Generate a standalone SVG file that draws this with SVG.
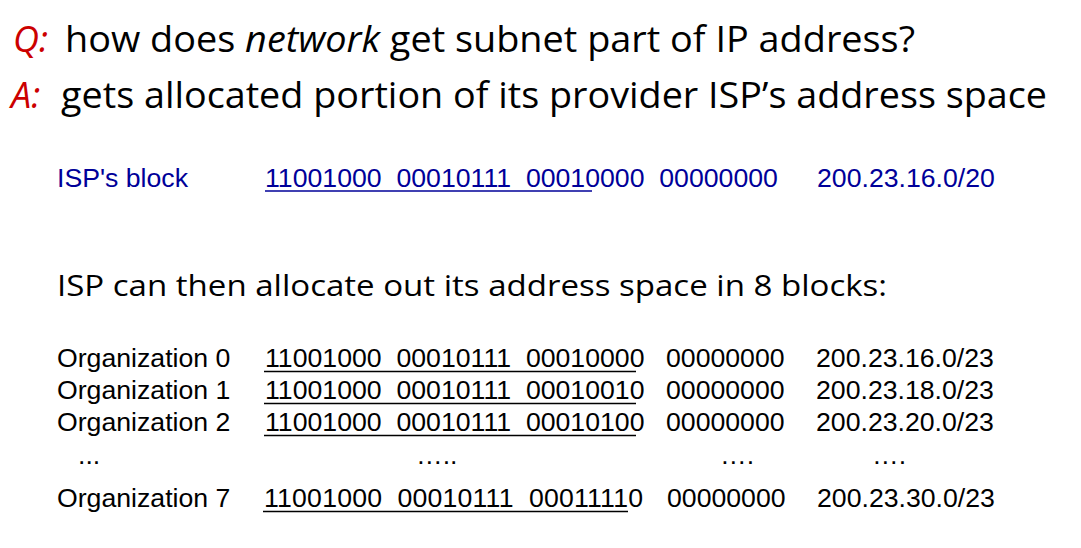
<svg xmlns="http://www.w3.org/2000/svg" width="1081" height="548" viewBox="0 0 1081 548">
<style>
.h{font-family:"Open Sans","Noto Sans","Liberation Sans",sans-serif;fill:#000}
.red{fill:#CC0000;font-style:italic}
.it{font-style:italic}
.a{font-family:"Liberation Sans",Arial,sans-serif;font-size:26.67px;white-space:pre}
.blue{fill:#000099}
.blk{fill:#000}
.ulb{stroke:#000099;stroke-width:1.6}
.ulk{stroke:#000;stroke-width:1.6}
</style>
<rect width="1081" height="548" fill="#fff"/>
<g id="question">
<text class="h red" x="13" y="51.5" font-size="36">Q:</text>
<text class="h" x="65" y="51.5" font-size="36" textLength="850" lengthAdjust="spacingAndGlyphs">how does <tspan class="it">network</tspan> get subnet part of IP address?</text>
</g>
<g id="answer">
<text class="h red" x="11" y="108" font-size="36">A:</text>
<text class="h" x="61" y="108" font-size="36" textLength="986" lengthAdjust="spacingAndGlyphs">gets allocated portion of its provider ISP’s address space</text>
</g>
<g id="isp-block">
<text class="a blue" x="57" y="187">ISP's block</text>
<text class="a blue" x="265" y="187" xml:space="preserve">11001000  00010111  00010000  00000000</text>
<text class="a blue" x="817" y="187">200.23.16.0/20</text>
<line class="ulb" x1="265" y1="191" x2="592" y2="191"/>
</g>
<g id="allocate">
<text class="h" x="57" y="296" font-size="30" textLength="830" lengthAdjust="spacingAndGlyphs">ISP can then allocate out its address space in 8 blocks:</text>
</g>
<g id="org0">
<text class="a blk" x="57" y="367">Organization 0</text>
<text class="a blk" x="265" y="367" xml:space="preserve">11001000  00010111  00010000</text>
<text class="a blk" x="666" y="367">00000000</text>
<text class="a blk" x="816" y="367">200.23.16.0/23</text>
<line class="ulk" x1="264" y1="371.5" x2="636" y2="371.5"/>
</g>
<g id="org1">
<text class="a blk" x="57" y="399">Organization 1</text>
<text class="a blk" x="265" y="399" xml:space="preserve">11001000  00010111  00010010</text>
<text class="a blk" x="666" y="399">00000000</text>
<text class="a blk" x="816" y="399">200.23.18.0/23</text>
<line class="ulk" x1="264" y1="403.5" x2="636" y2="403.5"/>
</g>
<g id="org2">
<text class="a blk" x="57" y="431">Organization 2</text>
<text class="a blk" x="265" y="431" xml:space="preserve">11001000  00010111  00010100</text>
<text class="a blk" x="666" y="431">00000000</text>
<text class="a blk" x="816" y="431">200.23.20.0/23</text>
<line class="ulk" x1="264" y1="435.5" x2="636" y2="435.5"/>
</g>
<g id="ellipsis">
<text class="a blk" x="78" y="464">...</text>
<text class="a blk" x="416" y="464">…..</text>
<text class="a blk" x="720" y="464">….</text>
<text class="a blk" x="872" y="464">….</text>
</g>
<g id="org7">
<text class="a blk" x="57" y="507">Organization 7</text>
<text class="a blk" x="264" y="507" xml:space="preserve" textLength="379" lengthAdjust="spacing">11001000  00010111  00011110</text>
<text class="a blk" x="667" y="507">00000000</text>
<text class="a blk" x="817" y="507">200.23.30.0/23</text>
<line class="ulk" x1="263" y1="511.5" x2="628" y2="511.5"/>
</g>
</svg>
